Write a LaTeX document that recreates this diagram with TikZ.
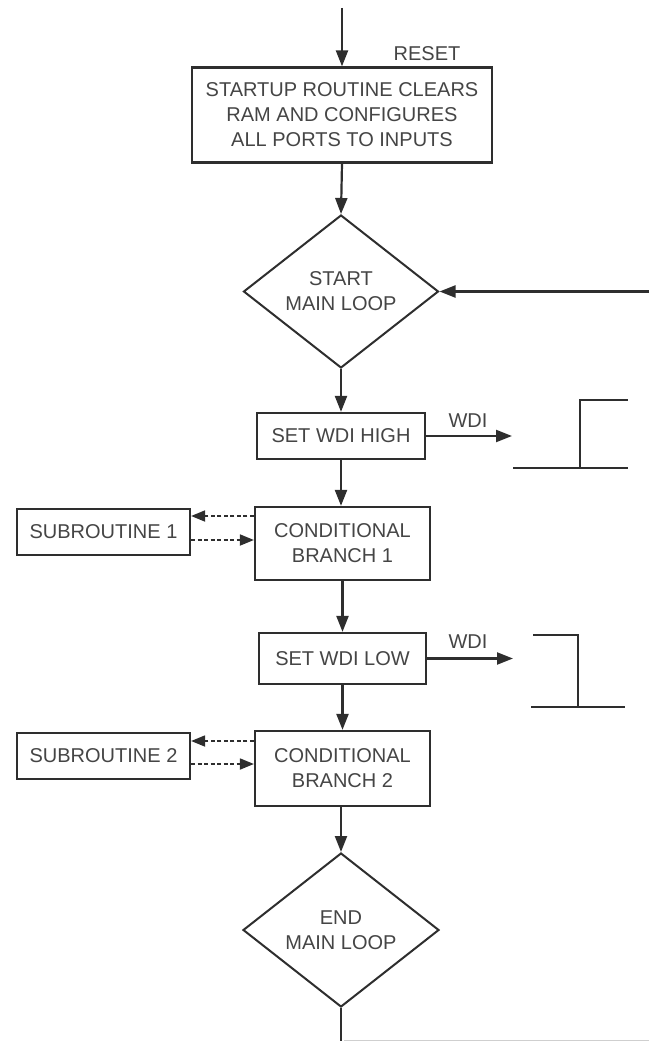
\documentclass[tikz,border=0pt]{standalone}
\usepackage{fontspec}
\setmainfont{Liberation Sans}
\usetikzlibrary{arrows.meta,shapes.geometric}
\definecolor{linegray}{HTML}{2E2E2E}
\definecolor{textgray}{HTML}{454545}
\definecolor{edgegray}{HTML}{CFCFCF}
\begin{document}
\begin{tikzpicture}[x=1pt,y=-1pt,
  txt/.style={text=textgray, font=\fontsize{20}{25}\selectfont, align=center, inner sep=0pt},
  box/.style={txt, draw=linegray, line width=2.2pt, fill=white, rectangle},
  decision/.style={txt, draw=linegray, line width=2pt, fill=white, diamond},
  flow/.style={draw=linegray, line width=2.2pt, -{Triangle[length=16pt,width=12pt]}},
  dflow/.style={draw=linegray, line width=1.8pt, dash pattern=on 4pt off 2.5pt, -{Triangle[length=14pt,width=11pt]}},
  wave/.style={draw=linegray, line width=2.2pt}
]
\useasboundingbox (0,0) rectangle (649,1041);

% process blocks
\node[box, minimum width=300pt, minimum height=95pt] (startup) at (342,115)
  {STARTUP ROUTINE CLEARS\\RAM AND CONFIGURES\\ALL PORTS TO INPUTS};
\node[decision, minimum width=195pt, minimum height=153pt] (mainstart) at (341,291.5)
  {START\\MAIN LOOP};
\node[box, minimum width=168pt, minimum height=46pt] (sethigh) at (341,436) {SET WDI HIGH};
\node[box, minimum width=175pt, minimum height=73pt] (cond1) at (342.5,543.5) {CONDITIONAL\\BRANCH 1};
\node[box, minimum width=173pt, minimum height=46pt] (sub1) at (103.5,532) {SUBROUTINE 1};
\node[box, minimum width=167pt, minimum height=51pt] (setlow) at (342.5,658.5) {SET WDI LOW};
\node[box, minimum width=175pt, minimum height=75pt] (cond2) at (342.5,768.5) {CONDITIONAL\\BRANCH 2};
\node[box, minimum width=173pt, minimum height=46pt] (sub2) at (103.5,756) {SUBROUTINE 2};
\node[decision, minimum width=196pt, minimum height=154pt] (mainend) at (341,930)
  {END\\MAIN LOOP};

% labels
\node[txt] (reset) at (427,54) {RESET};
\node[txt] (wdihigh) at (468,421) {WDI};
\node[txt] (wdilow) at (468,642) {WDI};

% free ends of connectors
\coordinate (entry) at (342,8);
\coordinate (loopin) at (649,291.5);
\coordinate (wdiouthigh) at (512,436);
\coordinate (wdioutlow) at (513,658.5);
\coordinate (loopout) at (341,1041);
\coordinate (loopcorner) at (344,1040);
\coordinate (loopright) at (649,1040);
\coordinate (d1a) at (0,516);
\coordinate (d1b) at (0,540);
\coordinate (d2a) at (0,741);
\coordinate (d2b) at (0,764);

% main flow
\draw[flow] (entry) -- (entry |- startup.north);
\draw[flow] (entry |- startup.south) -- (mainstart.north);
\draw[flow] (loopin) -- (mainstart.east);
\draw[flow] (mainstart.south) -- (sethigh.north);
\draw[flow] (sethigh.south) -- (sethigh.south |- cond1.north);
\draw[flow] (cond1.south) -- (setlow.north);
\draw[flow] (setlow.south) -- (cond2.north);
\draw[flow] (cond2.south -| mainend.north) -- (mainend.north);
\draw[wave] (mainend.south) -- (loopout);
\draw[edgegray, line width=1pt] (loopcorner) -- (loopright);

% WDI outputs
\draw[flow] (sethigh.east) -- (wdiouthigh);
\draw[flow] (setlow.east) -- (wdioutlow);

% subroutine calls and returns
\draw[dflow] (cond1.west |- d1a) -- (sub1.east |- d1a);
\draw[dflow] (sub1.east |- d1b) -- (cond1.west |- d1b);
\draw[dflow] (cond2.west |- d2a) -- (sub2.east |- d2a);
\draw[dflow] (sub2.east |- d2b) -- (cond2.west |- d2b);

% WDI waveforms: rising edge and falling edge
\draw[wave] (513,468) -- (628,468);
\draw[wave] (580,468) -- (580,400) -- (628,400);
\draw[wave] (533,635) -- (578,635) -- (578,707);
\draw[wave] (531,707) -- (625,707);
\end{tikzpicture}
\end{document}
